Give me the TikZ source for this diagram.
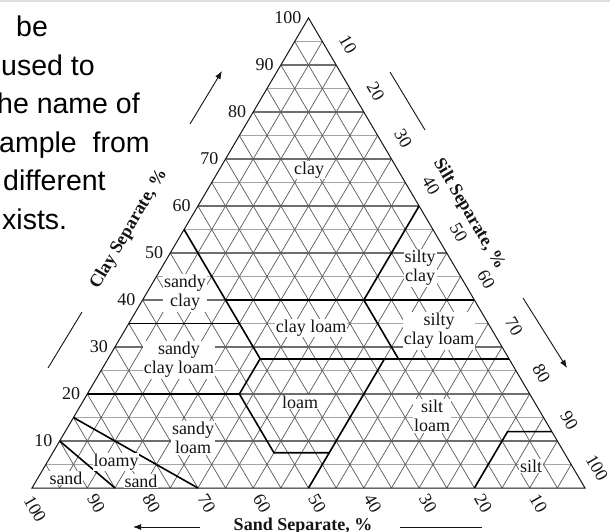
\documentclass[tikz,border=0pt]{standalone}
\usepackage{fontspec}
\setmainfont{Liberation Serif}
\newfontfamily\slidefont{Liberation Sans}
\usetikzlibrary{arrows.meta}
\definecolor{soilgrid}{RGB}{90,90,90}
\definecolor{soilminor}{RGB}{165,165,165}
\definecolor{soilmajor}{RGB}{110,110,110}
\definecolor{soilink}{RGB}{20,20,20}

\begin{document}
\begin{tikzpicture}[
  x=1pt, y=-1pt,
  slidetext/.style={
    anchor=base west, inner sep=0pt,
    font=\slidefont\fontsize{28.5}{34}\selectfont
  },
  soillabel/.style={
    fill=white, inner sep=1pt, align=center,
    font=\fontsize{18}{19}\selectfont, text=soilink
  },
  ticklabel/.style={inner sep=0pt, font=\fontsize{18}{18}\selectfont, text=soilink},
  axistitle/.style={inner sep=0pt, font=\fontsize{18}{18}\selectfont\bfseries, text=soilink},
  minorline/.style={draw=soilminor, line width=1.4pt},
  majorline/.style={draw=soilmajor, line width=1.1pt},
  diagline/.style={draw=soilgrid, line width=0.7pt},
  frameline/.style={draw=soilink, line width=1pt},
  classline/.style={draw=black, line width=1.6pt},
  axisline/.style={draw=soilink, line width=0.9pt},
  axisarrow/.style={-{Latex[length=8pt,width=6pt]}, draw=soilink, line width=0.9pt}
]
\useasboundingbox (0,0) rectangle (610,531);
\fill[white] (0,0) rectangle (610,531);
\fill[black!12] (0,0) rectangle (610,1.5);

% cut-off slide text
\node[slidetext] (line1) at (16,36.5)  {be};
\node[slidetext] (line2) at (1,75)     {used to};
\node[slidetext] (line3) at (-3,113.5) {he name of};
\node[slidetext] (line4) at (-1,152)   {ample\ \ from};
\node[slidetext] (line5) at (3,190.5)  {different};
\node[slidetext] (line6) at (2,229)    {xists.};

% triangle in (silt, clay) coordinates
\begin{scope}[shift={(32,488)}, x={(5.53pt,0pt)}, y={(2.765pt,4.7pt)}]
  \foreach \c in {5,15,...,95}
    \draw[minorline] (0,\c) -- ({100-\c},\c);
  \foreach \c in {10,20,...,90}
    \draw[majorline] (0,\c) -- ({100-\c},\c);
  \foreach \t in {5,10,...,95} {
    \draw[diagline] (\t,0) -- (\t,{100-\t});
    \draw[diagline] (\t,0) -- (0,\t);
  }
  \draw[frameline] (0,0) -- (100,0) -- (0,100) -- cycle;

  % texture class borders
  \draw[classline] (0,55) -- (27.5,27.5) -- (27.5,20) -- (0,20);
  \draw[classline] (0,35) -- (20,35);
  \draw[classline] (15,40) -- (60,40);
  \draw[classline] (40,40) -- (40,60);
  \draw[classline] (27.5,27.5) -- (72.5,27.5);
  \draw[classline] (52.5,27.5) -- (40,40);
  \draw[classline] (27.5,20) -- (40,7.5) -- (50,7.5);
  \draw[classline] (50,27.5) -- (50,0);
  \draw[classline] (80,0) -- (80,12) -- (88,12);
  \draw[classline] (15,0) -- (0,10);
  \draw[classline] (30,0) -- (0,15);

  % scales
  \foreach \c in {10,20,...,100}
    \node[ticklabel, anchor=east] (clay\c) at ([xshift=-7pt]0,\c) {\c};
  \foreach \t in {10,20,...,100}
    \node[ticklabel, rotate=-60] (silt\t) at (\t,{100-\t+4.3}) {\t};
  \foreach \s in {10,20,...,90}
    \node[ticklabel, rotate=-60] (sand\s) at ({100-\s+3.2},-3.2) {\s};
\end{scope}
\node[ticklabel, rotate=-60] (sand100) at (35,509) {100};

% texture names
\node[soillabel] (clay)    at (309,170) {clay};
\node[soillabel] (sicl)    at (420,268) {silty\\clay};
\node[soillabel] (sicloam) at (439,331) {silty\\clay loam};
\node[soillabel] (cloam)   at (311,328) {clay loam};
\node[soillabel] (scl)     at (185,293) {sandy\\clay};
\node[soillabel] (scloam)  at (179,360) {sandy\\clay loam};
\node[soillabel] (loam)    at (300,402) {loam};
\node[soillabel] (sloam)   at (193,438) {sandy\\loam};
\node[soillabel] (lsand1)  at (116,462) {loamy};
\node[soillabel] (lsand2)  at (141,481) {sand};
\node[soillabel] (sand)    at (66,478)  {sand};
\node[soillabel] (siloam)  at (432,416) {silt\\loam};
\node[soillabel] (silt)    at (531,466) {silt};

% axis names and arrows
\node[axistitle, rotate=59.5]  (claytitle) at (129,229) {Clay Separate, \%};
\node[axistitle, rotate=-59.5] (silttitle) at (469,214) {Silt Separate, \%};
\node[axistitle, anchor=base]  (sandtitle) at (303,530) {Sand Separate, \%};

\coordinate (clayA) at (48,368);  \coordinate (clayB) at (82,312);
\coordinate (clayC) at (190,124); \coordinate (clayD) at (222,71);
\coordinate (siltA) at (390,72);  \coordinate (siltB) at (425,130);
\coordinate (siltC) at (523,298); \coordinate (siltD) at (567,368);
\coordinate (sandA) at (200,527); \coordinate (sandB) at (133,527);
\coordinate (sandC) at (400,527); \coordinate (sandD) at (482,527);

\draw[axisline]  (clayA) -- (clayB);
\draw[axisarrow] (clayC) -- (clayD);
\draw[axisline]  (siltA) -- (siltB);
\draw[axisarrow] (siltC) -- (siltD);
\draw[axisarrow] (sandA) -- (sandB);
\draw[axisline]  (sandC) -- (sandD);
\end{tikzpicture}
\end{document}
